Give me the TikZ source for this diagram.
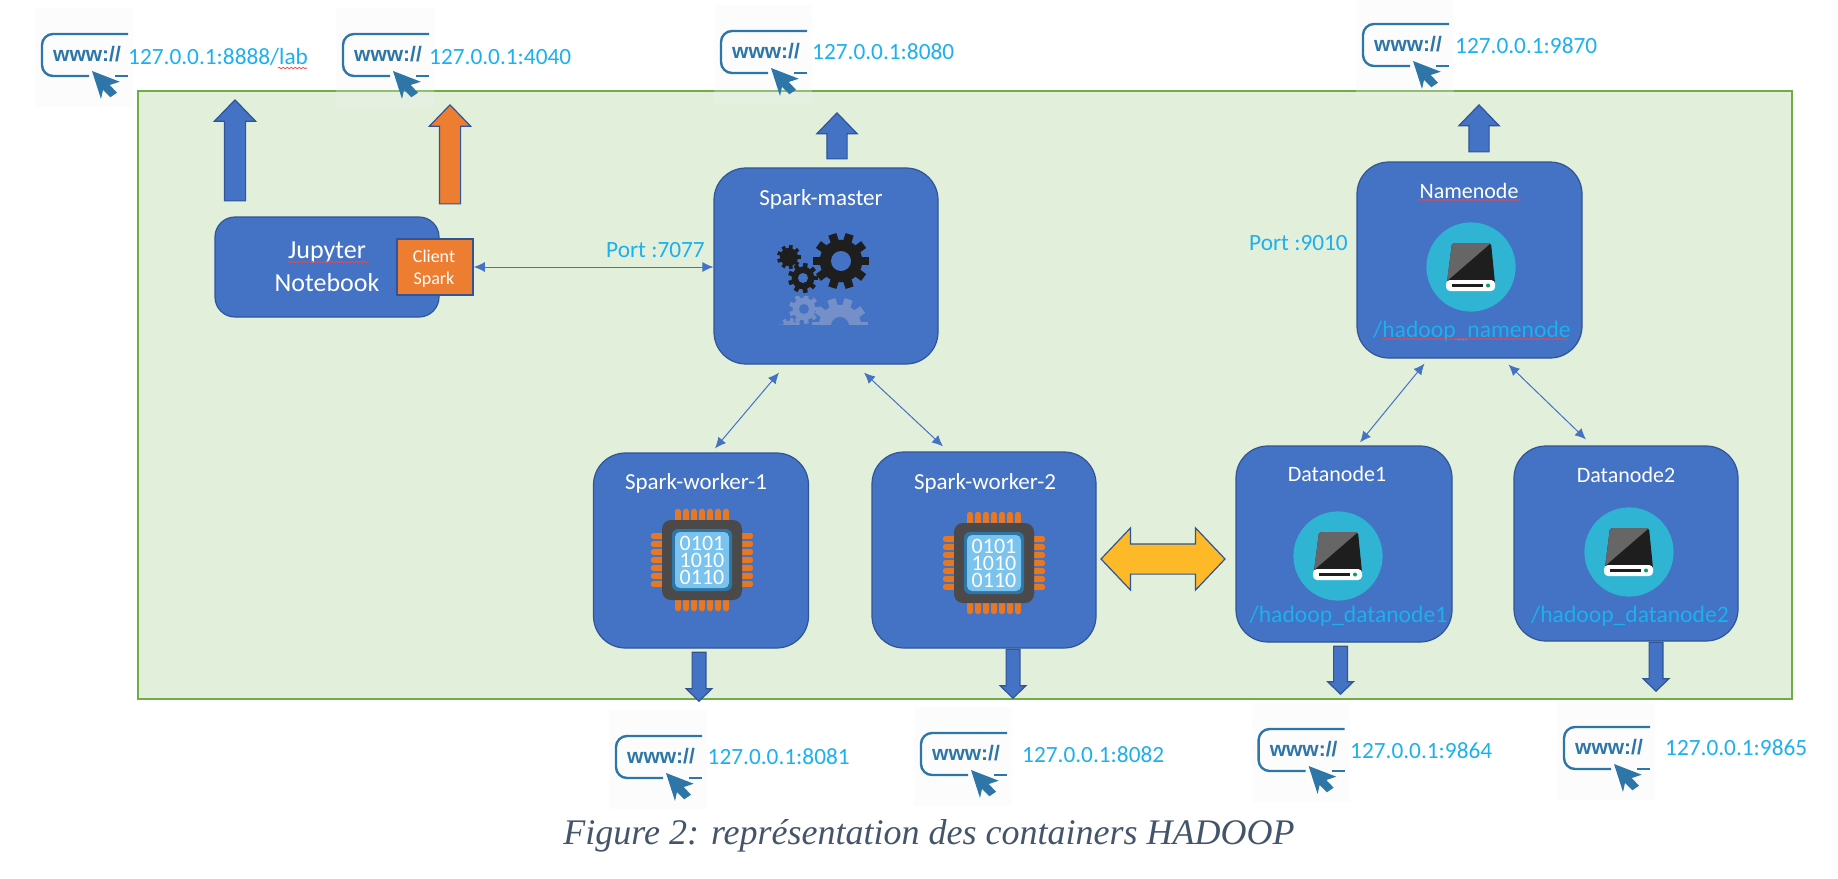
\documentclass[tikz,border=0pt]{standalone}
\usepackage{fontspec}
\setmainfont{Carlito}
\newfontfamily\iconfont{Liberation Sans}
\newfontfamily\captionfont{Liberation Serif}
\usepackage{tikz}
\usetikzlibrary{arrows.meta,calc,shapes.arrows,decorations.pathmorphing}

\definecolor{boxblue}{HTML}{4472C4}
\definecolor{boxline}{HTML}{2F5597}
\definecolor{urlcyan}{HTML}{1CB0EE}
\definecolor{iconblue}{HTML}{2E75A8}
\definecolor{greenfill}{HTML}{E2EFDA}
\definecolor{greenline}{HTML}{70AD47}
\definecolor{orangefill}{HTML}{ED7D31}
\definecolor{yellowfill}{HTML}{FDB927}
\definecolor{diskteal}{HTML}{2FB5D3}
\definecolor{gearblack}{HTML}{1E1E1E}
\definecolor{gearfade}{HTML}{7590C8}
\definecolor{pinorange}{HTML}{E87722}
\definecolor{chipgray}{HTML}{4B4949}
\definecolor{chiplight}{HTML}{79C3EE}
\definecolor{captiongray}{HTML}{44546A}

\tikzset{
  container/.style={rectangle,rounded corners=32pt,draw=boxline,fill=boxblue,line width=1.2pt,inner sep=0pt},
  title/.style={anchor=base,text=white,font=\fontsize{23}{23}\selectfont},
  url/.style={anchor=base west,inner sep=0pt,text=urlcyan,font=\fontsize{23.3}{23}\selectfont},
  pathlabel/.style={anchor=base west,inner sep=0pt,text=urlcyan,font=\fontsize{23.6}{23}\selectfont},
  link/.style={{Latex[length=11pt,width=10pt]}-{Latex[length=11pt,width=10pt]},draw=boxblue,line width=1pt},
  spell/.style={draw=red!75!white,line width=.7pt,decorate,decoration={snake,amplitude=.8pt,segment length=4pt}},
  blockup/.style={single arrow,shape border rotate=90,anchor=tip,inner sep=10pt,
    single arrow head extend=10pt,single arrow tip angle=88,draw=boxline,line width=1.2pt,fill=boxblue},
  blockdown/.style={single arrow,shape border rotate=270,anchor=tip,inner sep=6.3pt,
    single arrow head extend=6pt,single arrow tip angle=92,draw=boxline,line width=1.2pt,fill=boxblue},
  pics/wwwicon/.style={code={
    \fill[gray!8,opacity=.25] (-7,-26) rectangle (91,73);
    \draw[iconblue,line width=2.4pt,rounded corners=11pt] (86,0) -- (0,0) -- (0,42) -- (47,42);
    \draw[iconblue,line width=2.4pt] (73,42) -- (86,42);
    \fill[iconblue] (50,37) -- (77.7,47.7) -- (67.7,51) -- (75,58.7) -- (68.3,63.3)
      -- (61,56) -- (59,65) -- cycle;
    \node[text=iconblue,inner sep=0pt,font=\iconfont\bfseries\fontsize{21}{21}\selectfont] (-www) at (45,20) {www://};
  }},
  pics/diskicon/.style={code={
    \fill[diskteal] (0,0) circle (44.6);
    \fill[gearblack,rounded corners=2pt] (-19,-24) -- (20,-24) -- (24,16) -- (-24,16) -- cycle;
    \fill[gray!80!black,rounded corners=2pt] (-19,-24) -- (20,-24) -- (-24,14) -- cycle;
    \fill[white,rounded corners=4pt] (-25,13) rectangle (24,24);
    \fill[gearblack] (-19,17) rectangle (12,20);
    \fill[teal!70!green] (17,18.5) circle (2);
  }},
  pics/chipicon/.style={code={
    \foreach \pin in {-3,...,3} {
      \draw[pinorange,line width=5.5pt,line cap=round] (\pin*8,-48.5) -- (\pin*8,-39);
      \draw[pinorange,line width=5.5pt,line cap=round] (\pin*8,48.5) -- (\pin*8,39);
      \draw[pinorange,line width=5.5pt,line cap=round] (-48.5,\pin*8) -- (-39,\pin*8);
      \draw[pinorange,line width=5.5pt,line cap=round] (48.5,\pin*8) -- (39,\pin*8);
    }
    \fill[chipgray,rounded corners=9pt] (-40,-40) rectangle (40,40);
    \fill[iconblue,rounded corners=6pt] (-30,-31) rectangle (30,31);
    \fill[chiplight,rounded corners=5pt] (-27,-28) rectangle (27,28);
    \node[text=white,align=center,inner sep=0pt,font=\fontsize{22}{17}\selectfont] (-bits) at (0,0) {0101\\1010\\0110};
  }},
}

% centre, radius, teeth, hole, colour
\newcommand{\drawgear}[5]{
  \fill[#5] #1 circle ({#2*0.76});
  \foreach \tooth in {1,...,#3} {
    \draw[#5,line width={#2*0.3pt}] #1 ++({\tooth*360/#3}:{#2*0.6}) -- ++({\tooth*360/#3}:{#2*0.4});
  }
  \fill[boxblue] #1 circle (#4);
}

\begin{document}
\begin{tikzpicture}[x=1pt,y=-1pt]
  \useasboundingbox (0,0) rectangle (1838,878);

  % Green area
  \node[rectangle,draw=greenline,fill=greenfill,line width=2pt,inner sep=0pt,
    minimum width=1654pt,minimum height=608pt] (area) at (965,395) {};

  % Containers
  \node[container,rounded corners=20pt,minimum width=224pt,minimum height=100pt] (jupyter) at (327,267) {};
  \node[rectangle,draw=boxline,fill=orangefill,line width=1.6pt,inner sep=0pt,
    minimum width=76pt,minimum height=56pt] (client) at (435,267) {};
  \node[container,minimum width=224pt,minimum height=196pt] (master) at (826,266) {};
  \node[container,minimum width=215pt,minimum height=195pt] (workerone) at (701,550.5) {};
  \node[container,minimum width=224pt,minimum height=196pt] (workertwo) at (984,550) {};
  \node[container,minimum width=225pt,minimum height=196pt] (namenode) at (1469.5,260) {};
  \node[container,minimum width=216pt,minimum height=196pt] (dataone) at (1344,544) {};
  \node[container,minimum width=224pt,minimum height=195pt] (datatwo) at (1626,543.5) {};

  % Jupyter labels
  \node[anchor=base,text=white,font=\fontsize{26}{26}\selectfont] (jupytertop) at (327,258) {Jupyter};
  \node[anchor=base,text=white,font=\fontsize{26}{26}\selectfont] (jupyterbot) at (327,291) {Notebook};
  \node[anchor=base,text=white,font=\fontsize{18}{18}\selectfont] (clienttop) at (434,262) {Client};
  \node[anchor=base,text=white,font=\fontsize{18}{18}\selectfont] (clientbot) at (434,284) {Spark};

  % Titles
  \node[title] (mastertitle) at (821,205) {Spark-master};
  \node[title] (workeronetitle) at (696,489) {Spark-worker-1};
  \node[title] (workertwotitle) at (985,489) {Spark-worker-2};
  \node[title,font=\fontsize{22}{22}\selectfont] (namenodetitle) at (1469,198) {Namenode};
  \node[title,font=\fontsize{22}{22}\selectfont] (dataonetitle) at (1337,481) {Datanode1};
  \node[title,font=\fontsize{22}{22}\selectfont] (datatwotitle) at (1626,482) {Datanode2};

  % Gears and their reflection
  \begin{scope}
    \clip (760,296) rectangle (880,324);
    \drawgear{(804,309)}{15}{9}{5}{gearfade}
    \drawgear{(840,326)}{28}{10}{9}{gearfade}
    \drawgear{(790,330)}{12}{9}{0}{gearfade}
  \end{scope}
  \drawgear{(841,261)}{28}{10}{10}{gearblack}
  \drawgear{(803,278)}{15}{9}{5}{gearblack}
  \drawgear{(789,257)}{12}{9}{0}{gearblack}

  % Chips
  \pic (chipone) at (702,560) {chipicon};
  \pic (chiptwo) at (994,563) {chipicon};

  % Disks
  \pic (disknn) at (1471,267) {diskicon};
  \pic (diskone) at (1338,556) {diskicon};
  \pic (disktwo) at (1629,552) {diskicon};
  \node[pathlabel] (pathnn) at (1373,337) {/hadoop\_namenode};
  \node[pathlabel] (pathone) at (1249.5,622) {/hadoop\_datanode1};
  \node[pathlabel] (pathtwo) at (1531,622) {/hadoop\_datanode2};

  % Block arrows
  \node[blockup,minimum height=101pt] (upjupyter) at (235,99) {};
  \node[blockup,minimum height=99pt,fill=orangefill] (upclient) at (450,104) {};
  \node[blockup,minimum height=46pt,inner sep=9.5pt] (upmaster) at (837,112) {};
  \node[blockup,minimum height=47pt,inner sep=9.5pt] (upnamenode) at (1479,104) {};
  \node[blockdown,minimum height=49pt] (downworkerone) at (699,702) {};
  \node[blockdown,minimum height=49pt] (downworkertwo) at (1013,699) {};
  \node[blockdown,minimum height=48pt] (downdataone) at (1340.5,695) {};
  \node[blockdown,minimum height=49pt] (downdatatwo) at (1656,692) {};
  \node[double arrow,inner sep=14.5pt,minimum height=124pt,double arrow head extend=16pt,
    double arrow tip angle=93,draw=boxline,line width=1.2pt,fill=yellowfill] (sharedvolume) at (1163,559) {};

  % Thin links
  \draw[link] (client.east) -- (master.west |- client.east);
  \draw[link] ([shift={(-47,8)}]master.south) -- ([shift={(14,-4)}]workerone.north);
  \draw[link] ([shift={(38,8)}]master.south) -- ([shift={(-41,-5)}]workertwo.north);
  \draw[link] ([shift={(-45,5)}]namenode.south) -- ([shift={(16,-3)}]dataone.north);
  \draw[link] ([shift={(39,6)}]namenode.south) -- ([shift={(-40,-6)}]datatwo.north);

  % Ports
  \node[url] (portmaster) at (606,257) {Port :7077};
  \node[url] (portnamenode) at (1249,250) {Port :9010};

  % Web access
  \pic (wwwlab) at (42,34) {wwwicon};
  \pic (wwwclient) at (343,34) {wwwicon};
  \pic (wwwmaster) at (721,31) {wwwicon};
  \pic (wwwnamenode) at (1363,24) {wwwicon};
  \pic (wwwworkerone) at (616,736) {wwwicon};
  \pic (wwwworkertwo) at (921,733) {wwwicon};
  \pic (wwwdataone) at (1258.6,729) {wwwicon};
  \pic (wwwdatatwo) at (1564,727) {wwwicon};
  \node[url] (urllab) at (128,64) {127.0.0.1:8888/lab};
  \node[url] (urlclient) at (429,64) {127.0.0.1:4040};
  \node[url] (urlmaster) at (812,59) {127.0.0.1:8080};
  \node[url] (urlnamenode) at (1455,53) {127.0.0.1:9870};
  \node[url] (urlworkerone) at (707.5,764) {127.0.0.1:8081};
  \node[url] (urlworkertwo) at (1022,762) {127.0.0.1:8082};
  \node[url] (urldataone) at (1350,758) {127.0.0.1:9864};
  \node[url] (urldatatwo) at (1665,755) {127.0.0.1:9865};

  % Spell check marks
  \draw[spell] (278,68) -- (307,68);
  \draw[spell] (287,262) -- (369,262);
  \draw[spell] (1418,200) -- (1521,200);
  \draw[spell] (1382,339) -- (1568,339);

  % Caption
  \node[anchor=base,text=captiongray,font=\captionfont\itshape\fontsize{36}{36}\selectfont] (caption) at (929,844)
    {Figure 2: représentation des containers HADOOP};
\end{tikzpicture}
\end{document}
